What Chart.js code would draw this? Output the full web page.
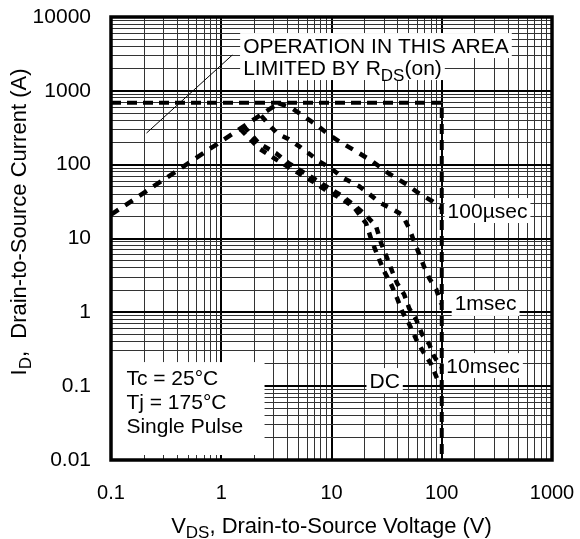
<!DOCTYPE html>
<html>
<head>
<meta charset="utf-8">
<script src="https://cdn.jsdelivr.net/npm/chart.js@4.4.1/dist/chart.umd.min.js"></script>
<style>
  body { margin: 0; background: #fff; }
  canvas { display: block; }
</style>
</head>
<body>
<canvas id="soaChart" width="580" height="539"></canvas>
<script>
// Safe operating area — VDS (V) vs ID (A), log-log
const xDecades = [0.1, 1, 10, 100, 1000];
const xTickLabels = ["0.1", "1", "10", "100", "1000"];
const yDecades = [0.01, 0.1, 1, 10, 100, 1000, 10000];
const yTickLabels = ["0.01", "0.1", "1", "10", "100", "1000", "10000"];

// RDS(on) limit
const rdsV = [0.1, 3.3];
const rdsI = [21, 680];

// package current limit + BVDSS
const limitV = [0.1, 100, 100];
const limitI = [690, 690, 0.01];

// 100 usec
const us100V = [3.3, 4.4, 5.6, 7.2, 9.1, 11.7, 16.7, 23.4, 33, 48, 62, 82, 95, 100];
const us100I = [680, 580, 453, 352, 266, 207, 152, 111, 76, 54, 41, 32, 27, 26];

// 1 msec
const ms1V = [2.3, 3.2, 4.1, 5.1, 6.2, 7.7, 9.9, 13, 17.8, 22, 28, 35.5, 43.7, 50.7, 56, 62, 69, 77, 89, 99];
const ms1I = [460, 266, 221, 177, 143, 111, 89, 65, 51, 40, 30, 25, 21, 13.7, 9.2, 6.3, 4.2, 2.9, 2.05, 1.3];

// 10 msec
const ms10V = [1.6, 2.19, 3.13, 4.11, 5.4, 6.9, 8.9, 12.2, 16.7, 20.6, 25.4, 28.2, 32, 35.5, 39.4, 45.6, 50.7, 58.6, 66.5, 77, 85.5, 95, 100];
const ms10I = [330, 195, 143, 104, 81, 65, 51, 38.5, 27, 20.6, 14.6, 8.6, 5.4, 3.6, 2.47, 1.75, 1.13, 0.8, 0.5, 0.37, 0.25, 0.2, 0.18];

// DC
const dcV = [1.5, 2.19, 3.13, 4.11, 5.4, 6.9, 8.9, 12.2, 16, 20.6, 22.9, 25.9, 30, 34.7, 39.4, 43.7, 50.7, 60, 69, 80, 89, 97];
const dcI = [300, 167, 118, 92, 72, 58, 45, 35, 26.5, 16, 9.8, 6.1, 3.6, 2.4, 1.55, 1.03, 0.69, 0.4, 0.28, 0.2, 0.136, 0.1];

const FONT = '"Liberation Sans", Arial, Helvetica, sans-serif';

function pts(xs, ys) {
  return xs.map((x, i) => ({ x: x, y: ys[i] }));
}

function withMinors(decades) {
  const out = [];
  decades.forEach((d, i) => {
    out.push(d);
    if (i < decades.length - 1) {
      for (let k = 2; k <= 9; k++) out.push(d * k);
    }
  });
  return out;
}

function isDecade(v) {
  const l = Math.log10(v);
  return Math.abs(l - Math.round(l)) < 1e-9;
}

function decadeLabel(v, decades, labels) {
  const i = decades.findIndex(d => Math.abs(d - v) / d < 1e-9);
  return i >= 0 ? labels[i] : "";
}

function curve(xs, ys, width, dash) {
  return {
    data: pts(xs, ys),
    showLine: true,
    borderColor: "#000",
    borderWidth: width,
    borderDash: dash,
    borderCapStyle: "butt",
    pointRadius: 0,
    tension: 0,
  };
}

// text with a white box behind it
function boxedText(ctx, parts, x, y) {
  let w = 0;
  parts.forEach(p => {
    ctx.font = p.size + "px " + FONT;
    p.w = ctx.measureText(p.t).width;
    w += p.w;
  });
  ctx.fillStyle = "#fff";
  ctx.fillRect(x - 3, y - 12, w + 6, 25);
  ctx.fillStyle = "#000";
  ctx.textBaseline = "alphabetic";
  let cx = x;
  parts.forEach(p => {
    ctx.font = p.size + "px " + FONT;
    ctx.fillText(p.t, cx, y + 7.5 + (p.dy || 0));
    cx += p.w;
  });
}

function titleParts(ctx, parts) {
  let w = 0;
  parts.forEach(p => {
    ctx.font = p.size + "px " + FONT;
    p.w = ctx.measureText(p.t).width;
    w += p.w;
  });
  return w;
}

const annotations = {
  id: "annotations",
  beforeDatasetsDraw(chart) {
    const { ctx, chartArea: a, scales } = chart;
    const px = v => scales.x.getPixelForValue(v);
    const py = v => scales.y.getPixelForValue(v);
    ctx.save();

    // conditions box
    ctx.fillStyle = "#fff";
    ctx.fillRect(a.left, py(0.212), px(2.47) - a.left, a.bottom - 5 - py(0.212));
    ctx.fillStyle = "#000";
    ctx.font = "21px " + FONT;
    ctx.textBaseline = "middle";
    ctx.fillText("Tc = 25°C", px(0.138), py(0.125));
    ctx.fillText("Tj = 175°C", px(0.138), py(0.059));
    ctx.fillText("Single Pulse", px(0.138), py(0.028));

    // leader line
    ctx.strokeStyle = "#000";
    ctx.lineWidth = 1;
    ctx.beginPath();
    ctx.moveTo(px(0.21), py(268));
    ctx.lineTo(px(1.26), py(3055));
    ctx.stroke();

    boxedText(ctx, [{ t: "OPERATION IN THIS AREA", size: 21 }], px(1.58), py(4170));
    boxedText(ctx, [
      { t: "LIMITED BY R", size: 21 },
      { t: "DS", size: 17, dy: 6 },
      { t: "(on)", size: 21 },
    ], px(1.58), py(2100));

    boxedText(ctx, [{ t: "100µsec", size: 21 }], px(113), py(24.3));
    boxedText(ctx, [{ t: "1msec", size: 21 }], px(131), py(1.34));
    boxedText(ctx, [{ t: "10msec", size: 21 }], px(110), py(0.193));
    boxedText(ctx, [{ t: "DC", size: 21 }], px(22.1), py(0.121));
    ctx.restore();
  },
  afterDraw(chart) {
    const { ctx, chartArea: a } = chart;
    ctx.save();
    // frame
    ctx.strokeStyle = "#000";
    ctx.lineWidth = 3.5;
    ctx.strokeRect(a.left, a.top, a.right - a.left, a.bottom - a.top);

    ctx.fillStyle = "#000";
    ctx.textBaseline = "alphabetic";

    // x title
    const xParts = [
      { t: "V", size: 22, dy: 0 },
      { t: "DS", size: 17, dy: 5 },
      { t: ", Drain-to-Source Voltage (V)", size: 22, dy: 0 },
    ];
    let w = titleParts(ctx, xParts);
    let cx = (a.left + a.right) / 2 - w / 2;
    xParts.forEach(p => {
      ctx.font = p.size + "px " + FONT;
      ctx.fillText(p.t, cx, 533 + p.dy);
      cx += p.w;
    });

    // y title
    const yParts = [
      { t: "I", size: 22, dy: 0 },
      { t: "D", size: 17, dy: 5 },
      { t: ",  Drain-to-Source Current (A)", size: 22, dy: 0 },
    ];
    w = titleParts(ctx, yParts);
    ctx.translate(26, 222);
    ctx.rotate(-Math.PI / 2);
    cx = -w / 2;
    yParts.forEach(p => {
      ctx.font = p.size + "px " + FONT;
      ctx.fillText(p.t, cx, p.dy);
      cx += p.w;
    });
    ctx.restore();
  },
};

const gridColor = c => (c.tick && isDecade(c.tick.value) ? "#000" : "#333");
const gridWidth = c => (c.tick && isDecade(c.tick.value) ? 2 : 1);

const soaChart = new Chart(document.getElementById("soaChart"), {
  type: "scatter",
  data: {
    datasets: [
      curve(limitV, limitI, 4, [10, 6]),
      curve(rdsV, rdsI, 4.5, [9, 8]),
      curve(us100V, us100I, 4.5, [8, 8]),
      curve(ms1V, ms1I, 4.5, [7, 8]),
      curve(ms10V, ms10I, 4.5, [7, 7]),
      curve(dcV, dcI, 4.5, [7, 7]),
    ],
  },
  options: {
    responsive: false,
    animation: false,
    layout: { padding: { top: 17, right: 28, left: 0, bottom: 0 } },
    plugins: {
      legend: { display: false },
      tooltip: { enabled: false },
    },
    scales: {
      x: {
        type: "logarithmic",
        min: 0.1,
        max: 1000,
        afterBuildTicks: s => { s.ticks = withMinors(xDecades).map(v => ({ value: v })); },
        afterFit: s => {
          s.height = 79;
          s.paddingLeft = 0;
          s.paddingRight = 0;
        },
        border: { display: false },
        grid: { color: gridColor, lineWidth: gridWidth, drawTicks: false },
        ticks: {
          autoSkip: false,
          maxRotation: 0,
          padding: 21,
          color: "#000",
          font: { family: FONT, size: 20 },
          callback: v => decadeLabel(v, xDecades, xTickLabels),
        },
      },
      y: {
        type: "logarithmic",
        min: 0.01,
        max: 10000,
        afterBuildTicks: s => { s.ticks = withMinors(yDecades).map(v => ({ value: v })); },
        afterFit: s => {
          s.width = 111;
          s.paddingTop = 0;
          s.paddingBottom = 0;
        },
        border: { display: false },
        grid: { color: gridColor, lineWidth: gridWidth, drawTicks: false },
        ticks: {
          autoSkip: false,
          padding: 20,
          color: "#000",
          font: { family: FONT, size: 21 },
          callback: v => decadeLabel(v, yDecades, yTickLabels),
        },
      },
    },
  },
  plugins: [annotations],
});
</script>
</body>
</html>
